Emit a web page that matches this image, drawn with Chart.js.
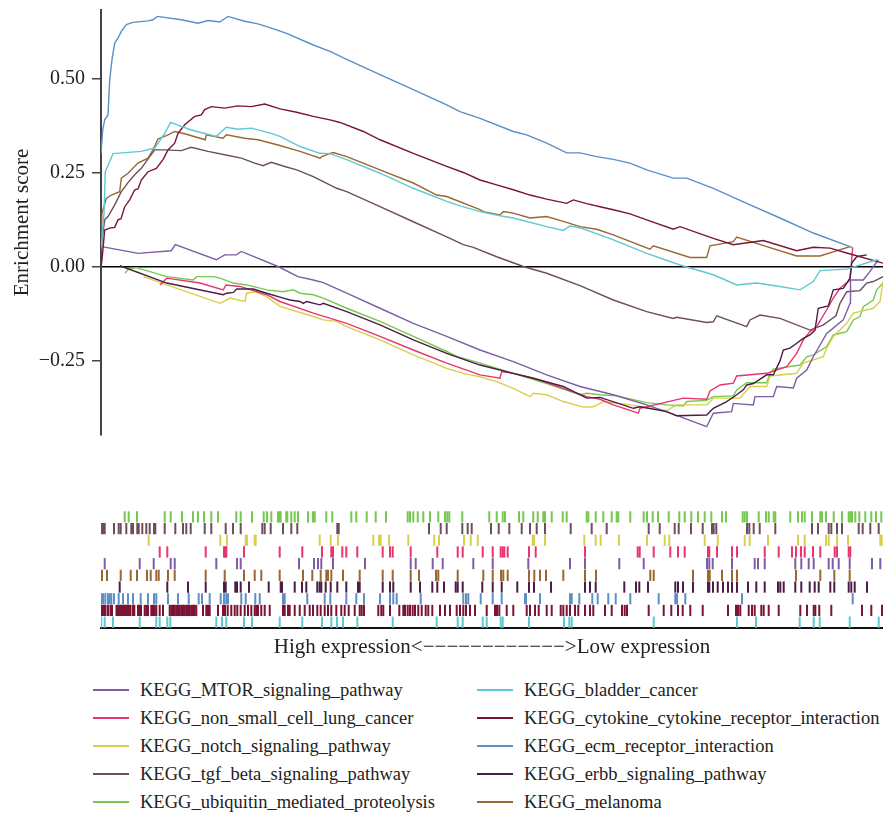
<!DOCTYPE html>
<html>
<head>
<meta charset="utf-8">
<title>GSEA enrichment plot</title>
<script src="https://cdn.jsdelivr.net/npm/chart.js@4.4.1/dist/chart.umd.min.js"></script>
<style>
    html, body { margin: 0; padding: 0; background: #fff; }
    #wrap { position: relative; width: 883px; height: 814px; }
    #gsea-chart { position: absolute; left: 0; top: 0; }
    #legend { position: absolute; left: 0; top: 676px; width: 883px; font-family: 'Liberation Serif', serif; font-size: 18.5px; color: #222; }
    .legend-item { position: absolute; height: 28px; line-height: 28px; white-space: nowrap; }
    .legend-item .swatch { position: absolute; left: 0; top: 13px; width: 36px; height: 2px; }
    .legend-item .label { position: absolute; left: 47px; top: 0; }
</style>
</head>
<body>
<div id="wrap">
    <canvas id="gsea-chart" width="883" height="665"></canvas>
    <div id="legend"></div>
</div>
<script>
// gene sets, in the order of the hit rows (bottom row first)
const geneSets = [
    'KEGG_bladder_cancer',
    'KEGG_cytokine_cytokine_receptor_interaction',
    'KEGG_ecm_receptor_interaction',
    'KEGG_erbb_signaling_pathway',
    'KEGG_melanoma',
    'KEGG_MTOR_signaling_pathway',
    'KEGG_non_small_cell_lung_cancer',
    'KEGG_notch_signaling_pathway',
    'KEGG_tgf_beta_signaling_pathway',
    'KEGG_ubiquitin_mediated_proteolysis'
];

// order of the legend entries (two columns of five)
const legendOrder = [5, 6, 7, 8, 9, 0, 1, 2, 3, 4];

// running enrichment score: [rank position, ES]
const bladderCurve = [[0,0.05],[3,0.14],[4.3,0.253],[12,0.301],[40.3,0.307],[53.7,0.316],[63.7,0.355],[69.7,0.384],[90.3,0.364],[115.3,0.347],[125.3,0.371],[137,0.366],[150.3,0.369],[170.3,0.355],[179,0.347],[199,0.32],[219,0.302],[229,0.301],[245.7,0.285],[279,0.249],[312.3,0.209],[345.7,0.174],[359,0.162],[379,0.147],[399,0.136],[412.3,0.13],[445.7,0.107],[462.3,0.097],[469,0.109],[479,0.104],[499,0.085],[512.3,0.072],[545.7,0.036],[579,0.005],[612.3,-0.021],[635.7,-0.048],[655.7,-0.043],[679,-0.052],[699,-0.061],[712.3,-0.039],[719,-0.01],[745.7,-0.006],[776,0.019]];
const cytokineCurve = [[0,0],[1,0.019],[3.7,0.098],[8.7,0.103],[13.7,0.105],[17,0.125],[20,0.128],[23.7,0.16],[28.7,0.178],[33.7,0.205],[37,0.207],[40.3,0.231],[47,0.253],[55.3,0.262],[62,0.285],[67,0.311],[73.7,0.329],[77,0.355],[83.7,0.378],[93.7,0.4],[100.3,0.404],[103.7,0.418],[110.3,0.426],[123.7,0.422],[137,0.428],[150.3,0.426],[163.7,0.433],[179,0.42],[195.7,0.411],[212.3,0.4],[229,0.391],[239,0.384],[262.3,0.36],[279,0.338],[312.3,0.302],[345.7,0.267],[362.3,0.251],[379,0.231],[395.7,0.218],[412.3,0.205],[429,0.191],[445.7,0.18],[465.7,0.169],[472.3,0.178],[485.7,0.168],[499,0.16],[512.3,0.152],[529,0.141],[545.7,0.125],[572.3,0.1],[579,0.107],[612.3,0.076],[632.3,0.059],[662.3,0.07],[695.7,0.043],[712.3,0.052],[729,0.05],[745.7,0.037],[782,0.01]];
const ecmCurve = [[0,0.3],[1.7,0.364],[3.7,0.391],[7,0.404],[8.7,0.497],[11,0.551],[13.7,0.595],[17,0.608],[20.3,0.626],[25.3,0.644],[32,0.65],[47,0.654],[52,0.657],[56.3,0.666],[80.3,0.657],[97,0.648],[107,0.655],[118.7,0.651],[127,0.666],[143.7,0.653],[157,0.646],[170.3,0.635],[185.7,0.621],[212.3,0.59],[229,0.573],[245.7,0.552],[279,0.511],[312.3,0.471],[345.7,0.431],[359,0.413],[379,0.395],[412.3,0.36],[425.7,0.351],[445.7,0.329],[465.7,0.303],[479,0.303],[495.7,0.293],[512.3,0.286],[529,0.276],[545.7,0.258],[572.3,0.236],[585.7,0.236],[612.3,0.209],[645.7,0.169],[679,0.13],[712.3,0.09],[751,0.052]];
const erbbCurve = [[19,0.003],[65.7,-0.043],[122.3,-0.074],[125.7,-0.07],[132.3,-0.068],[135.7,-0.059],[152.3,-0.059],[165.7,-0.07],[182.3,-0.083],[189,-0.088],[199,-0.092],[202.3,-0.097],[205.7,-0.092],[219,-0.101],[222.3,-0.097],[245.7,-0.119],[279,-0.154],[312.3,-0.194],[345.7,-0.23],[379,-0.261],[412.3,-0.283],[432.3,-0.296],[462.3,-0.318],[485.7,-0.349],[499,-0.347],[532.3,-0.376],[539,-0.372],[565.7,-0.385],[575.7,-0.396],[605.7,-0.394],[612.3,-0.376],[625.7,-0.358],[635.7,-0.34],[642.3,-0.327],[645.7,-0.314],[652.3,-0.31],[665.7,-0.287],[672.3,-0.287],[679,-0.25],[682.3,-0.221],[689,-0.216],[695.7,-0.203],[702.3,-0.19],[709,-0.181],[714,-0.168],[717.3,-0.11],[727.3,-0.104],[732.3,-0.061],[742.3,-0.057],[749,-0.03],[750.7,0.01],[755.7,0.027],[765.7,0.032]];
const melanomaCurve = [[0,0.06],[1,0.143],[5.3,0.182],[10.3,0.191],[18.7,0.2],[20.3,0.236],[27,0.249],[37,0.276],[47,0.289],[52,0.311],[57,0.34],[67,0.351],[73.7,0.36],[83.7,0.354],[104.3,0.338],[105.3,0.351],[122,0.342],[125.3,0.351],[143.7,0.342],[157,0.338],[177,0.324],[199,0.307],[219,0.289],[220.7,0.293],[229,0.302],[232.3,0.304],[245.7,0.293],[259,0.279],[279,0.258],[312.3,0.223],[335.7,0.191],[345.7,0.187],[379,0.152],[382.3,0.147],[399,0.138],[402.3,0.147],[412.3,0.143],[429,0.13],[445.7,0.134],[462.3,0.121],[479,0.107],[495.7,0.1],[512.3,0.085],[549,0.047],[552.3,0.056],[589,0.025],[605.7,0.025],[609,0.056],[632.3,0.067],[635.7,0.079],[665.7,0.054],[695.7,0.029],[719,0.029],[749,0.054]];
const mtorCurve = [[0,0.055],[1,0.054],[37,0.036],[70.3,0.043],[74.3,0.059],[115.3,0.019],[123.7,0.032],[135.3,0.032],[140.3,0.041],[177,0.001],[197,-0.026],[212.3,-0.035],[222.3,-0.042],[245.7,-0.07],[279,-0.11],[312.3,-0.15],[345.7,-0.185],[379,-0.221],[412.3,-0.252],[445.7,-0.287],[479,-0.318],[512.3,-0.34],[545.7,-0.367],[579,-0.398],[605.7,-0.425],[612.3,-0.389],[630.7,-0.385],[632.3,-0.363],[652.3,-0.367],[654,-0.345],[672.3,-0.345],[675.7,-0.318],[692.3,-0.322],[695.7,-0.296],[705.7,-0.274],[712.3,-0.239],[725.7,-0.177],[742.3,-0.141],[749,-0.097],[749.5,-0.035],[762.3,-0.035],[769,-0.012],[777.3,0.019]];
const nonSmallCurve = [[59,-0.048],[65.7,-0.03],[99,-0.043],[122.3,-0.061],[125,-0.048],[139,-0.052],[165.7,-0.074],[179,-0.092],[212.3,-0.123],[245.7,-0.15],[279,-0.185],[312.3,-0.221],[345.7,-0.256],[379,-0.287],[399,-0.296],[400.7,-0.278],[412.3,-0.283],[432.3,-0.296],[462.3,-0.323],[485.7,-0.345],[499,-0.352],[512.3,-0.367],[537.3,-0.389],[539,-0.376],[582.3,-0.349],[605.7,-0.352],[609,-0.33],[619,-0.314],[632.3,-0.309],[635.7,-0.29],[665.7,-0.283],[685.7,-0.265],[695.7,-0.23],[702.3,-0.194],[709,-0.172],[715.7,-0.159],[725.7,-0.114],[732.3,-0.083],[739,-0.057],[749,-0.035],[751.7,0.052]];
const notchCurve = [[42.3,-0.026],[119,-0.097],[129,-0.083],[144,-0.092],[145.7,-0.07],[154,-0.066],[165.7,-0.079],[179,-0.105],[212.3,-0.132],[222.3,-0.141],[235.7,-0.145],[245.7,-0.159],[279,-0.194],[312.3,-0.234],[345.7,-0.27],[362.3,-0.283],[379,-0.292],[395.7,-0.305],[412.3,-0.323],[429,-0.345],[432.3,-0.336],[445.7,-0.34],[462.3,-0.358],[482.3,-0.373],[492.3,-0.372],[499,-0.363],[502.3,-0.358],[529,-0.367],[565.7,-0.382],[575.7,-0.367],[605.7,-0.367],[612.3,-0.349],[639,-0.349],[649,-0.318],[665.7,-0.318],[669,-0.29],[695.7,-0.283],[702.3,-0.256],[722.3,-0.239],[725.7,-0.216],[732.3,-0.185],[745.7,-0.15],[752.3,-0.123],[772.3,-0.11],[779,-0.092],[782,-0.039]];
const tgfCurve = [[0,0.03],[1,0.072],[3.7,0.125],[7,0.134],[13.7,0.165],[20.3,0.2],[27,0.224],[33.7,0.245],[40.3,0.262],[48.7,0.293],[53.7,0.311],[63.7,0.311],[80.3,0.309],[90.3,0.318],[107,0.307],[123.7,0.298],[140.3,0.289],[153.7,0.276],[162,0.269],[170.3,0.278],[183.7,0.267],[195.7,0.258],[212.3,0.24],[235.7,0.209],[245.7,0.2],[279,0.16],[312.3,0.12],[345.7,0.08],[362.3,0.059],[372.3,0.052],[395.7,0.027],[422.3,0.001],[445.7,-0.017],[479,-0.05],[512.3,-0.088],[545.7,-0.119],[572.3,-0.137],[575.7,-0.134],[605.7,-0.148],[612.3,-0.146],[615.7,-0.13],[645.7,-0.159],[649,-0.141],[659,-0.128],[679,-0.137],[709,-0.168],[722,-0.155],[735,-0.13],[739,-0.097],[745.7,-0.066],[759,-0.063],[765.7,-0.043],[772.3,-0.039],[782,-0.026]];
const ubiquitinCurve = [[24,-0.017],[27.3,-0.006],[35.7,-0.002],[65.7,-0.026],[92.3,-0.035],[95.7,-0.026],[112.3,-0.026],[119,-0.03],[132.3,-0.043],[145.7,-0.048],[165.7,-0.061],[182.3,-0.066],[192.3,-0.061],[199,-0.07],[212.3,-0.074],[222.3,-0.083],[245.7,-0.11],[279,-0.145],[312.3,-0.185],[345.7,-0.225],[355.7,-0.238],[379,-0.256],[412.3,-0.283],[445.7,-0.31],[479,-0.34],[485.7,-0.336],[499,-0.34],[515.7,-0.343],[545.7,-0.361],[565.7,-0.367],[582.3,-0.37],[585.7,-0.358],[605.7,-0.355],[612.3,-0.345],[632.3,-0.343],[635.7,-0.327],[645.7,-0.308],[665.7,-0.308],[669,-0.283],[672.3,-0.272],[699,-0.261],[705.7,-0.239],[712.3,-0.234],[725.7,-0.212],[732.3,-0.181],[745.7,-0.172],[752.3,-0.141],[759,-0.132],[762.3,-0.106],[772.3,-0.088],[775.7,-0.061],[782,-0.043]];

// rank positions of the genes of each set (the hit rows)
const bladderHits = [0.3,3.7,12,38.7,55.3,58.7,66.3,69.3,115.3,121,125.3,143,151,178.7,201.3,221,230.3,236,242,256.3,291.7,335.7,356.7,361.7,381.7,385.7,399.7,401.7,428,463,468.3,470.7,552.7,636,655,698.7,712.7,718.7,748.7,777.7];
const cytokineHits = [0.3,1.7,3,4.5,7,9.5,11,15.5,17,18.5,20,21.5,23,24.5,26,28,29.5,32,33.3,37,38.5,40,43.7,45.3,47,50.3,52,53.7,55.3,58.7,62,68.7,70.3,72,73.7,75.3,77,78.7,80.3,82,83.7,85.3,87,88.7,90.3,92,93.7,95.3,102,105.3,107,108.7,117,122,124,126.7,130.3,133.7,136.3,139.7,143.7,147,150.3,153.7,155.3,157,160.3,163.7,168.7,182,183.7,187,188.7,193.7,198.7,203.7,208.7,212,216.3,219.7,223.7,227,230.3,235.3,240.3,243.7,247.7,253.7,258.7,260.7,263,277.3,280.3,282.3,289,298.3,302.3,304,306.7,309,311.7,314,317.3,320.7,324.7,327.3,331.3,339,344,349,355.7,359,362.3,365,369,374,385.7,394,396,398.3,405.7,412.3,425.7,429,434,437.7,445.7,450.7,459.7,462.3,465.7,469,474,477.3,484,489,492.3,504,510.7,521,523.7,526,547.7,562.7,570.3,577,581.7,589.3,601.7,627,635,637,639.3,647.7,651,653.7,660.3,662.7,667.7,677.7,699.3,706,712.7,714.3,718.3,730.3,761,770.3,781];
const ecmHits = [0,2,4.3,7,8.7,10.3,13,17.7,22,27,32,39.7,47,53,55.3,67,77,87.7,97.7,101,108.7,119.7,123,125.3,127,140.3,144.7,154.3,158.7,182,183.7,206.3,223.7,229.3,245.3,255.3,263,279,289,292.3,295.7,319.7,362.3,365,367.3,379.7,391.7,400.7,424,425,439,469,470.7,478.3,491.3,496.7,507.3,514.7,529.3,557.7,574.3,576,584.3,641,751.7];
const erbbHits = [18.7,66.3,87,104.7,123,124.7,134.3,136,139.7,148,167.7,179.7,181,193.7,201,205.3,216.3,218.7,220.3,224.7,229.7,236.3,245.3,257,258.7,281.7,289,292.3,309.7,319,331.3,336.3,343,354.7,356.7,361.7,381.3,391.7,400.7,416.3,428,433,450,484,489,494.7,523.3,535,538.3,547,574.3,577,582,592,607,608.3,612,616.7,622,627,631,636,647,655.3,663.7,677,679.3,682.7,694.3,700.3,708.7,713.7,717.7,729.3,733.3,747.7,750.3,753.7,766];
const melanomaHits = [1,6,19.7,29.7,36,46,49.7,55.3,57.7,67,73.7,104.7,123.7,143,153.7,160.3,178.7,202,211.3,219.7,225.3,227,230.3,242,258.7,281.7,291.7,309.7,318,335,337.3,356.7,382.3,391.7,400,402.3,406.7,428,433.3,439,445,462.3,484,495,549.3,552.7,592,607,608.7,621,631,636,695,719.3,733.3,748.7];
const mtorHits = [3.7,38.7,52.7,69.7,73.7,115.3,136,139.7,198,213,217,220.3,232,264,309.7,314.7,331.7,341.7,372.3,391.7,427.3,469,484,518.3,542.7,606,608.3,611.7,631,653.7,657,663.7,694.3,700.3,707.7,712.7,727.7,731.7,737.7,748.7,771,779.3];
const nonSmallHits = [58.7,66.3,104.7,123,124.3,125.3,143,178.7,201.3,221,230.3,232,241.3,245.3,256.3,281.7,289,291.7,309.7,336.3,356.7,361.7,381.7,391.7,399.7,401.7,403.3,406.7,428,434.7,484,536.7,538.7,552.7,569.3,577,583.7,607,608.3,616,631,636,663.7,677.7,691,695,700,703.7,712,719.3,733.7,736,747.7,749.3];
const notchHits = [47.7,119.3,126,144.7,146,153.7,154.7,218.7,229.7,237,272.3,278,279.7,288,307.3,333.3,338,363,369.7,376.7,431.7,433,444,483.3,494.7,499.7,518,546,563.7,568.3,603.7,616.7,643.7,648.7,667,697,703.7,725,727.7,736,747,779.3,780.7];
const tgfHits = [0.3,2,3.7,13,17.7,19.7,25.3,30.3,32,36.3,37.7,41.3,45.3,48.7,53,54.3,63.7,74.3,82,85.3,89.7,103.7,110.3,124.7,132,139.7,161.3,163.7,169.7,182,190.3,196.3,236.3,237.7,328,339.7,345.7,361.3,366.7,370.7,390,397.7,408.3,420.7,429,435.7,444,469.7,490.7,505.7,547.7,558.7,573.7,577.7,590,601.7,611,612.7,615.3,646,648.3,652.7,658.7,674.3,711,717,727.7,730.3,736,741,757.7,761.7,769.3,777.7];
const ubiquitinHits = [23.7,27.7,36,63.7,69.7,81,92,97,103,110.3,117,135.3,139.7,151,162.7,166,170.3,177,178.7,179.7,185.3,186.3,190.3,193.7,197,207,212,213.7,225.3,231.3,250.3,255.3,265.7,274.7,285,306.7,309,312.3,316.7,322.3,329,337.3,344,346.3,348.3,361.3,388.3,395.7,401.7,404,418,422.3,432.3,436.7,442.3,444,450.7,461.7,465.7,485.7,487.3,494.7,502.3,510.7,515.7,517.3,529.3,542.7,546,551.7,557,567.7,578.3,583.7,590.3,597,603.7,610.3,621,625,641.7,643.7,646,657.7,665,667.7,672.7,674.3,689.3,697,701,703.7,711,719.3,721,725,732.7,741,747.7,749.3,751,754.3,758.3,764.3,770.3,775,780.3];

const yTicks = [-0.25, 0, 0.25, 0.5];
const rankLength = 782;

const curves = [bladderCurve, cytokineCurve, ecmCurve, erbbCurve, melanomaCurve, mtorCurve, nonSmallCurve, notchCurve, tgfCurve, ubiquitinCurve];
const hits = [bladderHits, cytokineHits, ecmHits, erbbHits, melanomaHits, mtorHits, nonSmallHits, notchHits, tgfHits, ubiquitinHits];

const colors = ['#5ec8d3', '#7b1434', '#5b8fc5', '#4b1c45', '#9a6631', '#7d5ea6', '#e8346f', '#d8cf4a', '#6c4e5f', '#76c84f'];

const serif = 'Liberation Serif';
Chart.defaults.font.family = serif;

const fmtTick = v => (v < 0 ? '\u2212' : '') + Math.abs(v).toFixed(2);

// the axes should not push the plot area in for their labels
const noPad = scale => {
    scale.paddingTop = 0;
    scale.paddingBottom = 0;
    scale.paddingLeft = 0;
    scale.paddingRight = 0;
};

// ES curves
const lineSets = geneSets.map((name, i) => ({
    type: 'line',
    label: name,
    data: curves[i].map(p => ({ x: p[0], y: p[1] })),
    borderColor: colors[i],
    borderWidth: 1.4,
    pointRadius: 0,
    tension: 0,
    fill: false,
    yAxisID: 'y'
}));

// hit rows: one short vertical tick per gene
const rugSets = geneSets.map((name, i) => ({
    type: 'line',
    label: name + ' hits',
    data: hits[i].map(r => ({ x: r, y: i + 0.5 })),
    showLine: false,
    pointStyle: 'line',
    rotation: 90,
    pointRadius: 5.6,
    pointBorderWidth: 2,
    pointBorderColor: colors[i],
    borderColor: colors[i],
    yAxisID: 'yRug'
}));

const chart = new Chart(document.getElementById('gsea-chart'), {
    data: { datasets: lineSets.concat(rugSets) },
    options: {
        responsive: false,
        animation: false,
        events: [],
        layout: { autoPadding: false, padding: { top: 10, right: 0, bottom: 0, left: 0 } },
        plugins: {
            legend: { display: false },
            tooltip: { enabled: false }
        },
        scales: {
            x: {
                type: 'linear',
                min: 0,
                max: rankLength,
                position: 'bottom',
                grid: { display: false },
                border: { display: true, color: '#111', width: 2 },
                ticks: { display: false },
                title: {
                    display: true,
                    text: 'High expression<\u2212\u2212\u2212\u2212\u2212\u2212\u2212\u2212\u2212\u2212\u2212\u2212>Low expression',
                    color: '#222',
                    font: { family: serif, size: 21 },
                    padding: { top: 4, bottom: 5 }
                },
                afterFit: scale => { scale.height = 37; noPad(scale); }
            },
            y: {
                type: 'linear',
                position: 'left',
                stack: 'gsea',
                stackWeight: 425,
                weight: 1,
                min: -0.447,
                max: 0.683,
                afterBuildTicks: scale => { scale.ticks = yTicks.map(v => ({ value: v })); },
                ticks: {
                    callback: fmtTick,
                    color: '#222',
                    font: { family: serif, size: 20 },
                    padding: 7
                },
                grid: {
                    color: ctx => (ctx.tick && ctx.tick.value === 0 ? '#000' : 'rgba(0,0,0,0)'),
                    lineWidth: 1.5,
                    tickColor: '#444',
                    tickLength: 9,
                    tickWidth: 1.5
                },
                border: { display: true, color: '#444', width: 2 },
                title: {
                    display: true,
                    text: 'Enrichment score',
                    color: '#222',
                    font: { family: serif, size: 21 },
                    padding: { top: 10, bottom: 0 }
                },
                afterFit: scale => { scale.width = 101; noPad(scale); }
            },
            yRug: {
                type: 'linear',
                position: 'left',
                stack: 'gsea',
                stackWeight: 193,
                weight: 0,
                min: 0,
                max: 16.5,
                ticks: { display: false },
                grid: { display: false },
                border: { display: false },
                afterFit: scale => { scale.width = 101; noPad(scale); }
            }
        }
    }
});

// two-column legend under the chart
const legendEl = document.getElementById('legend');
legendOrder.forEach((idx, k) => {
    const item = document.createElement('div');
    item.className = 'legend-item';
    item.style.left = (k < 5 ? 93 : 477) + 'px';
    item.style.top = ((k % 5) * 28) + 'px';
    const swatch = document.createElement('span');
    swatch.className = 'swatch';
    swatch.style.background = colors[idx];
    const label = document.createElement('span');
    label.className = 'label';
    label.textContent = geneSets[idx];
    item.appendChild(swatch);
    item.appendChild(label);
    legendEl.appendChild(item);
});
</script>
</body>
</html>
